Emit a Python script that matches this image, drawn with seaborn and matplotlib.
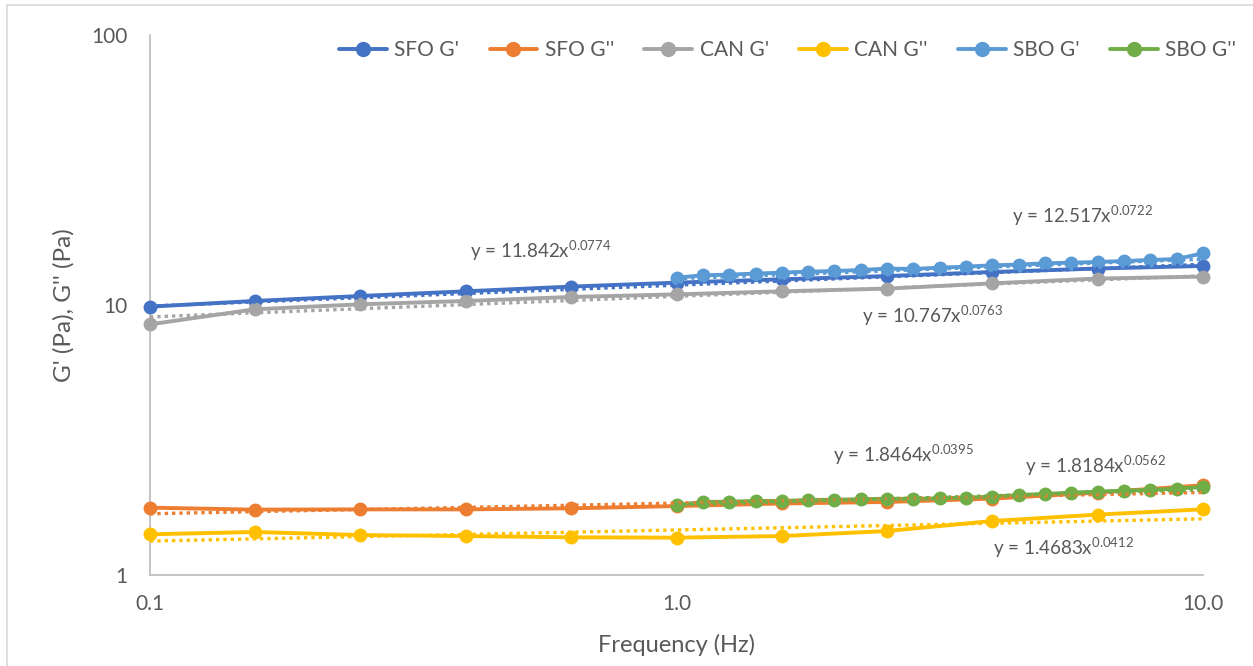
import numpy as np
import matplotlib
matplotlib.use("Agg")
import matplotlib.pyplot as plt
import seaborn as sns
from matplotlib.patches import Rectangle

# frequencies (Hz)
freq = [0.1, 0.158, 0.251, 0.398, 0.631, 1.0, 1.585, 2.512, 3.981, 6.31, 10.0]
freq_sbo = [1.0, 1.122, 1.259, 1.413, 1.585, 1.778, 1.995, 2.239, 2.512, 2.818, 3.162,
            3.548, 3.981, 4.467, 5.012, 5.623, 6.31, 7.079, 7.943, 8.913, 10.0]

# moduli (Pa)
sfo_gp = [9.86, 10.35, 10.80, 11.24, 11.70, 12.10, 12.45, 12.80, 13.25, 13.65, 13.95]
sfo_gpp = [1.776, 1.746, 1.750, 1.750, 1.766, 1.800, 1.840, 1.864, 1.918, 2.020, 2.150]
can_gp = [8.48, 9.64, 10.06, 10.35, 10.71, 10.95, 11.24, 11.50, 12.03, 12.53, 12.74]
can_gpp = [1.415, 1.443, 1.406, 1.394, 1.379, 1.375, 1.394, 1.455, 1.585, 1.674, 1.751]
sbo_gp = [12.63, 12.88, 12.96, 13.07, 13.18, 13.29, 13.36, 13.48, 13.64, 13.60, 13.75,
          13.87, 14.03, 14.11, 14.27, 14.35, 14.43, 14.55, 14.68, 14.80, 15.54]
sbo_gpp = [1.817, 1.864, 1.869, 1.880, 1.880, 1.896, 1.901, 1.907, 1.918, 1.912, 1.923,
           1.934, 1.951, 1.979, 1.996, 2.019, 2.036, 2.053, 2.065, 2.089, 2.118]

# power-law trendline coefficients (y = a x^b) as printed on the chart
fit_a = [11.842, 1.8464, 10.767, 1.4683, 12.517, 1.8184]
fit_b = [0.0774, 0.0395, 0.0763, 0.0412, 0.0722, 0.0562]
fit_label_x = [0.405, 1.98, 2.25, 3.99, 4.34, 4.59]
fit_label_y = [15.8, 2.78, 9.15, 1.262, 21.3, 2.53]

names = ["SFO G'", "SFO G''", "CAN G'", "CAN G''", "SBO G'", "SBO G''"]
colors = ["#4472C4", "#ED7D31", "#A5A5A5", "#FFC000", "#5B9BD5", "#70AD47"]
xs = [freq, freq, freq, freq, freq_sbo, freq_sbo]
ys = [sfo_gp, sfo_gpp, can_gp, can_gpp, sbo_gp, sbo_gpp]

sns.set_theme(style="white")
plt.rcParams["font.family"] = ["Lato", "DejaVu Sans"]
plt.rcParams["mathtext.fontset"] = "custom"
plt.rcParams["mathtext.rm"] = "Lato"
plt.rcParams["mathtext.it"] = "Lato:italic"
plt.rcParams["mathtext.bf"] = "Lato:bold"
text_col = "#595959"

fig = plt.figure(figsize=(12.53, 6.66), dpi=100)
ax = fig.add_axes([150 / 1253, 91 / 666, 1053 / 1253, 540 / 666])
ax.set_xscale("log")
ax.set_yscale("log")

for i in range(6):
    sns.lineplot(x=xs[i], y=ys[i], ax=ax, color=colors[i], marker="o", markersize=10,
                 markeredgewidth=0, linewidth=2.8, label=names[i], clip_on=False, zorder=3)
    # dotted power trendline
    tx = np.logspace(np.log10(xs[i][0]), np.log10(xs[i][-1]), 50)
    ax.plot(tx, fit_a[i] * tx ** fit_b[i], color=colors[i], linewidth=2.4,
            linestyle=(0, (1, 1.2)), zorder=4, clip_on=False)
    ax.text(fit_label_x[i], fit_label_y[i],
            "y = %sx$^{\\mathregular{%s}}$" % (fit_a[i], fit_b[i]),
            fontsize=13.5, color=text_col, ha="left", va="center")

ax.set_xlim(0.1, 10)
ax.set_ylim(1, 100)
ax.minorticks_off()
ax.set_xticks([0.1, 1, 10])
ax.set_xticklabels(["0.1", "1.0", "10.0"])
ax.set_yticks([1, 10, 100])
ax.set_yticklabels(["1", "10", "100"])
ax.tick_params(axis="both", length=0, labelsize=15, labelcolor=text_col)
ax.tick_params(axis="x", pad=14)
ax.tick_params(axis="y", pad=16)
for s in ["top", "right"]:
    ax.spines[s].set_visible(False)
for s in ["left", "bottom"]:
    ax.spines[s].set_color("#BFBFBF")
    ax.spines[s].set_linewidth(1.3)
ax.set_xlabel("")
ax.set_ylabel("")

fig.text(677 / 1253, 1 - 645 / 666, "Frequency (Hz)", fontsize=17, color=text_col,
         ha="center", va="center")
fig.text(64 / 1253, 1 - 305 / 666, "G' (Pa), G'' (Pa)", fontsize=17.5, color=text_col,
         ha="center", va="center", rotation=90)

handles, labels = ax.get_legend_handles_labels()
ax.legend(handles[:6], labels[:6], loc="center right", bbox_to_anchor=(1236 / 1253, 1 - 50 / 666),
          bbox_transform=fig.transFigure, ncol=6, frameon=False, fontsize=15,
          handlelength=2.3, handletextpad=0.35, columnspacing=1.45, labelcolor=text_col,
          borderaxespad=0, borderpad=0, markerscale=1.1)

fig.add_artist(Rectangle((7 / 1253, -0.1), 2, 1 - 5 / 666 + 0.1, transform=fig.transFigure,
                         fill=False, edgecolor="#D9D9D9", linewidth=1.2))

fig.savefig("out.png", dpi=100)
